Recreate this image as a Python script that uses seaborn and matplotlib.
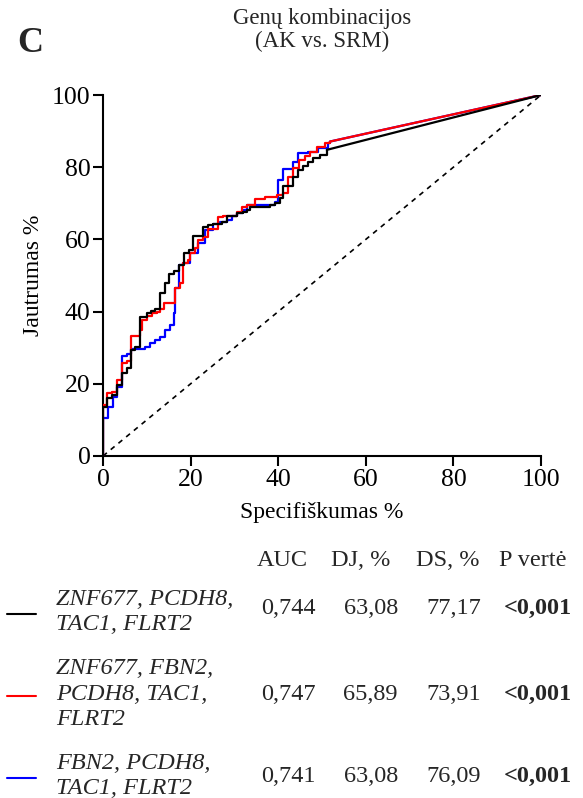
import numpy as np
import pandas as pd
import matplotlib.pyplot as plt
import seaborn as sns
from matplotlib.lines import Line2D

# ROC step curves: (x, y) = x where the curve rises, sensitivity after the rise
black_x = [0, 0, 1.0, 2.0, 3.1, 4.3, 5.4, 6.5, 7.3, 8.4, 10.0, 10.9, 11.9, 12.9, 14.2, 15.1, 16.1,
           17.4, 18.5, 19.7, 20.6, 22.9, 24.0, 25.2, 27.1, 28.2, 30.5, 32.0, 32.8, 33.6, 38.1, 39.3,
           40.4, 41.2, 43.4, 44.6, 45.7, 46.9, 48.0, 49.5, 51.1]
black_y = [0, 13.7, 16.0, 16.9, 19.7, 22.9, 24.3, 29.4, 30.3, 38.6, 39.7, 40.2, 40.6, 45.1, 47.8, 50.4, 51.3,
           52.9, 56.3, 57.1, 60.9, 63.5, 64.0, 64.3, 64.9, 66.5, 67.2, 67.7, 68.1, 69.1, 69.5, 70.0,
           71.4, 74.8, 77.4, 79.2, 80.3, 81.5, 82.5, 83.4, 84.8]

red_x = [0, 0, 1.0, 2.1, 3.1, 4.3, 5.4, 6.5, 8.4, 8.8, 10.0, 11.1, 12.3, 13.0, 14.0, 16.4, 17.6, 18.3,
         19.5, 19.9, 21.0, 21.8, 22.9, 24.0, 26.3, 27.5, 30.5, 31.7, 32.8, 34.7, 37.0, 39.7, 41.2,
         42.3, 43.4, 44.8, 46.1, 47.3, 48.8, 50.7, 51.8]
red_y = [0, 14.1, 17.4, 17.8, 21.1, 25.7, 26.2, 33.2, 34.9, 37.7, 38.8, 39.5, 40.0, 40.6, 42.5, 46.4, 47.8, 53.4,
         54.3, 56.1, 57.5, 59.8, 60.7, 63.0, 66.1, 66.5, 67.7, 68.9, 69.5, 71.1, 71.7, 72.3, 72.8,
         77.4, 79.7, 82.0, 83.1, 84.3, 85.7, 86.6, 87.1]

blue_x = [0, 0, 1.2, 2.2, 3.3, 4.3, 5.5, 6.5, 9.6, 10.7, 11.9, 13.0, 14.2, 15.3, 16.2, 16.4, 17.4, 18.3,
          19.9, 21.8, 23.3, 25.2, 26.7, 28.2, 29.4, 30.5, 32.0, 32.8, 39.3, 40.0, 41.2, 43.4, 44.6,
          46.9, 49.2, 51.4, 51.8]
blue_y = [0, 10.4, 13.7, 16.4, 19.2, 27.7, 28.3, 29.6, 30.3, 31.2, 32.1, 33.0, 34.9, 36.3, 39.5, 46.4, 52.9, 53.5,
          56.1, 58.9, 62.6, 64.3, 64.9, 65.4, 66.5, 67.2, 68.1, 69.5, 70.4, 76.5, 79.4, 81.5, 83.8,
          84.3, 85.2, 86.6, 87.1]

curve_colors = ["#000000", "#ff0000", "#0000ff"]

gene_labels = ["ZNF677, PCDH8,\nTAC1, FLRT2",
               "ZNF677, FBN2,\nPCDH8, TAC1,\nFLRT2",
               "FBN2, PCDH8,\nTAC1, FLRT2"]
auc = ["0,744", "0,747", "0,741"]
dj = ["63,08", "65,89", "63,08"]
ds = ["77,17", "73,91", "76,09"]
p_value = ["<0,001", "<0,001", "<0,001"]
headers = ["AUC", "DJ, %", "DS, %", "P vertė"]

sns.set_theme(style="ticks")
plt.rcParams["font.family"] = ["Liberation Serif", "DejaVu Serif"]

W, H = 583, 798
fs = 17.5
fig = plt.figure(figsize=(W / 100, H / 100), dpi=100)
ax = fig.add_axes([103 / W, 1 - 456 / H, (541 - 103) / W, (456 - 95) / H])

curves = [(black_x, black_y), (red_x, red_y), (blue_x, blue_y)]
# blue first, black last so black sits on top like the reference
for (cx, cy), col in list(zip(curves, curve_colors))[::-1]:
    ax.plot(cx, cy, drawstyle="steps-post", color=col, lw=1.6, zorder=3)
    ax.plot([cx[-1], 100], [cy[-1], 100], color=col, lw=1.6, zorder=3)

ax.plot([0, 100], [0, 100], color="black", lw=1.2, ls=(0, (3, 3)), zorder=2)

ax.set_xlim(0, 100)
ax.set_ylim(0, 100)
ax.set_xticks([0, 20, 40, 60, 80, 100])
ax.set_yticks([0, 20, 40, 60, 80, 100])
sns.despine(ax=ax)
for s in ["left", "bottom"]:
    ax.spines[s].set_linewidth(1.5)
    ax.spines[s].set_color("black")
ax.tick_params(axis="both", direction="out", length=7, width=1.5, color="black",
               labelsize=18.5, labelcolor="black", pad=2)
ax.set_xlabel("Specifiškumas %", fontsize=17, color="black", labelpad=8)
ax.set_ylabel("Jautrumas %", fontsize=17, color="black", labelpad=6)
for t in ax.get_xticklabels() + ax.get_yticklabels():
    t.set_clip_on(False)

fig.text(322 / W, 1 - 30 / H, "Genų kombinacijos\n(AK vs. SRM)", ha="center", va="center",
         fontsize=16.5, linespacing=1.15)
fig.text(17 / W, 1 - 43 / H, "C", ha="left", va="center", fontsize=26, fontweight="bold")

# table below the plot
col_x = [282 / W, 361 / W, 448 / W, 533 / W]
for hx, h in zip(col_x, headers):
    fig.text(hx, 1 - 561 / H, h, ha="center", va="center", fontsize=fs)

row_y = [612, 694, 776]
num_shift = [-4, 0, 0]
num_right = [316 / W, 398 / W, 481 / W, 572 / W]
for i, ry in enumerate(row_y):
    yy = 1 - ry / H
    ny = 1 - (ry + num_shift[i]) / H
    fig.add_artist(Line2D([7 / W, 36 / W], [1 - (ry + 2) / H] * 2, color=curve_colors[i],
                          lw=1.5, transform=fig.transFigure))
    fig.text(56 / W, yy, gene_labels[i], ha="left", va="center", fontsize=fs,
             fontstyle="italic", linespacing=1.3)
    fig.text(num_right[0], ny, auc[i], ha="right", va="center", fontsize=fs)
    fig.text(num_right[1], ny, dj[i], ha="right", va="center", fontsize=fs)
    fig.text(num_right[2], ny, ds[i], ha="right", va="center", fontsize=fs)
    fig.text(num_right[3], ny, p_value[i], ha="right", va="center", fontsize=fs,
             fontweight="bold")

fig.savefig("out.png", dpi=100, facecolor="white")
